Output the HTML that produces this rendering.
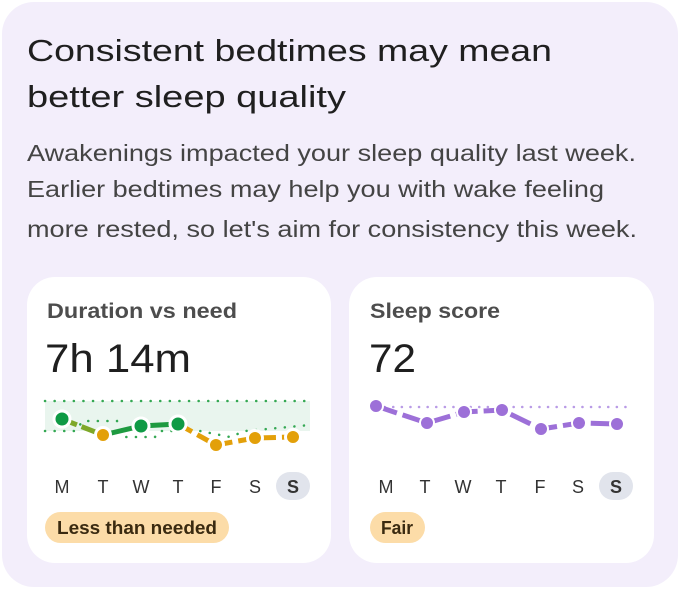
<html><head><style>
body{margin:0;width:680px;height:589px;background:#fff;}
.outer{position:absolute;left:2px;top:2px;width:676px;height:585px;border-radius:32px;background:#f3eefb;}
.card{position:absolute;top:277px;width:304px;height:286px;background:#fff;border-radius:28px}
</style></head><body>
<div class="outer"></div>
<div class="card" style="left:27px"></div>
<div class="card" style="left:349px;width:305px"></div>
<svg width="680" height="589" style="position:absolute;left:0;top:0" font-family="Liberation Sans" font-size="18" fill="#333">
<g fill="#1f1f1f" font-size="31">
<text x="27" y="61" textLength="525" lengthAdjust="spacingAndGlyphs">Consistent bedtimes may mean</text>
<text x="27" y="107" textLength="319" lengthAdjust="spacingAndGlyphs">better sleep quality</text>
</g>
<g fill="#444" font-size="23">
<text x="27" y="161" textLength="609" lengthAdjust="spacingAndGlyphs">Awakenings impacted your sleep quality last week.</text>
<text x="27" y="197" textLength="577" lengthAdjust="spacingAndGlyphs">Earlier bedtimes may help you with wake feeling</text>
<text x="27" y="237" textLength="610" lengthAdjust="spacingAndGlyphs">more rested, so let's aim for consistency this week.</text>
</g>
<g fill="#333" font-size="21" font-weight="bold" fill-opacity="0.9">
<text x="47" y="318" textLength="190" lengthAdjust="spacingAndGlyphs" style="font-weight:bold;fill:#3a3a3a">Duration vs need</text>
<text x="370" y="318" textLength="130" lengthAdjust="spacingAndGlyphs" style="fill:#3a3a3a">Sleep score</text>
</g>
<g fill="#1f1f1f" font-size="40">
<text x="45" y="372" textLength="146" lengthAdjust="spacingAndGlyphs">7h 14m</text>
<text x="369" y="372" textLength="47" lengthAdjust="spacingAndGlyphs">72</text>
</g>
<rect x="45" y="401" width="265" height="30" fill="#e9f5ee"/>
<line x1="45" y1="401" x2="310" y2="401" stroke="#34a853" stroke-width="2.5" stroke-dasharray="0.1 9.5" stroke-linecap="round"/>
<polyline points="45,431 75,431 83,421 117,421 125,437 155,437 160,431 200,431 230,437 245,431 310,425" fill="none" stroke="#34a853" stroke-width="2.5" stroke-dasharray="0.1 9.5" stroke-linecap="round"/>
<g stroke-width="5" fill="none">
<line x1="62" y1="419" x2="103" y2="435" stroke="#7ea828" stroke-dasharray="16 5"/>
<line x1="103" y1="435" x2="141" y2="426" stroke="#1e9a40"/>
<line x1="141" y1="426" x2="178" y2="424" stroke="#1e9a40"/>
<polyline points="178,424 216,445 255,438 293,437" stroke="#e3a00a" stroke-dasharray="16 6"/>
</g>
<g stroke="#fff" stroke-width="3">
<circle cx="62" cy="419" r="8" fill="#0f9a45"/><circle cx="103" cy="435" r="7.5" fill="#e3a00a"/>
<circle cx="141" cy="426" r="8" fill="#0f9a45"/><circle cx="178" cy="424" r="8" fill="#0f9a45"/>
<circle cx="216" cy="445" r="7.5" fill="#e3a00a"/><circle cx="255" cy="438" r="7.5" fill="#e3a00a"/><circle cx="293" cy="437" r="7.5" fill="#e3a00a"/>
</g>
<line x1="376" y1="407" x2="628" y2="407" stroke="#b99be6" stroke-width="2.5" stroke-dasharray="0.1 8.5" stroke-linecap="round"/>
<polyline points="376,406 427,423 464,412 502,410 541,429 579,423 617,424" fill="none" stroke="#9d70d8" stroke-width="5" stroke-dasharray="22 6"/>
<g fill="#9d70d8" stroke="#fff" stroke-width="2">
<circle cx="376" cy="406" r="7"/><circle cx="427" cy="423" r="7"/><circle cx="464" cy="412" r="7"/><circle cx="502" cy="410" r="7"/><circle cx="541" cy="429" r="7"/><circle cx="579" cy="423" r="7"/><circle cx="617" cy="424" r="7"/>
</g>
<rect x="276" y="472" width="34" height="28" rx="14" fill="#e1e4ec"/>
<rect x="599" y="472" width="34" height="28" rx="14" fill="#e1e4ec"/>
<g text-anchor="middle">
<text x="62" y="493">M</text><text x="103" y="493">T</text><text x="141" y="493">W</text><text x="178" y="493">T</text><text x="216" y="493">F</text><text x="255" y="493">S</text><text x="293" y="493" font-weight="bold">S</text>
<text x="386" y="493">M</text><text x="425" y="493">T</text><text x="463" y="493">W</text><text x="501" y="493">T</text><text x="540" y="493">F</text><text x="578" y="493">S</text><text x="616" y="493" font-weight="bold">S</text>
</g>
<rect x="45" y="512" width="184" height="31" rx="15.5" fill="#fcdca8"/>
<rect x="370" y="512" width="55" height="31" rx="15.5" fill="#fcdca8"/>
<g fill="#3a2a10" font-size="18" font-weight="bold">
<text x="57" y="534" textLength="160" lengthAdjust="spacingAndGlyphs">Less than needed</text>
<text x="381" y="534" textLength="32" lengthAdjust="spacingAndGlyphs">Fair</text>
</g>
</svg>
</body></html>
